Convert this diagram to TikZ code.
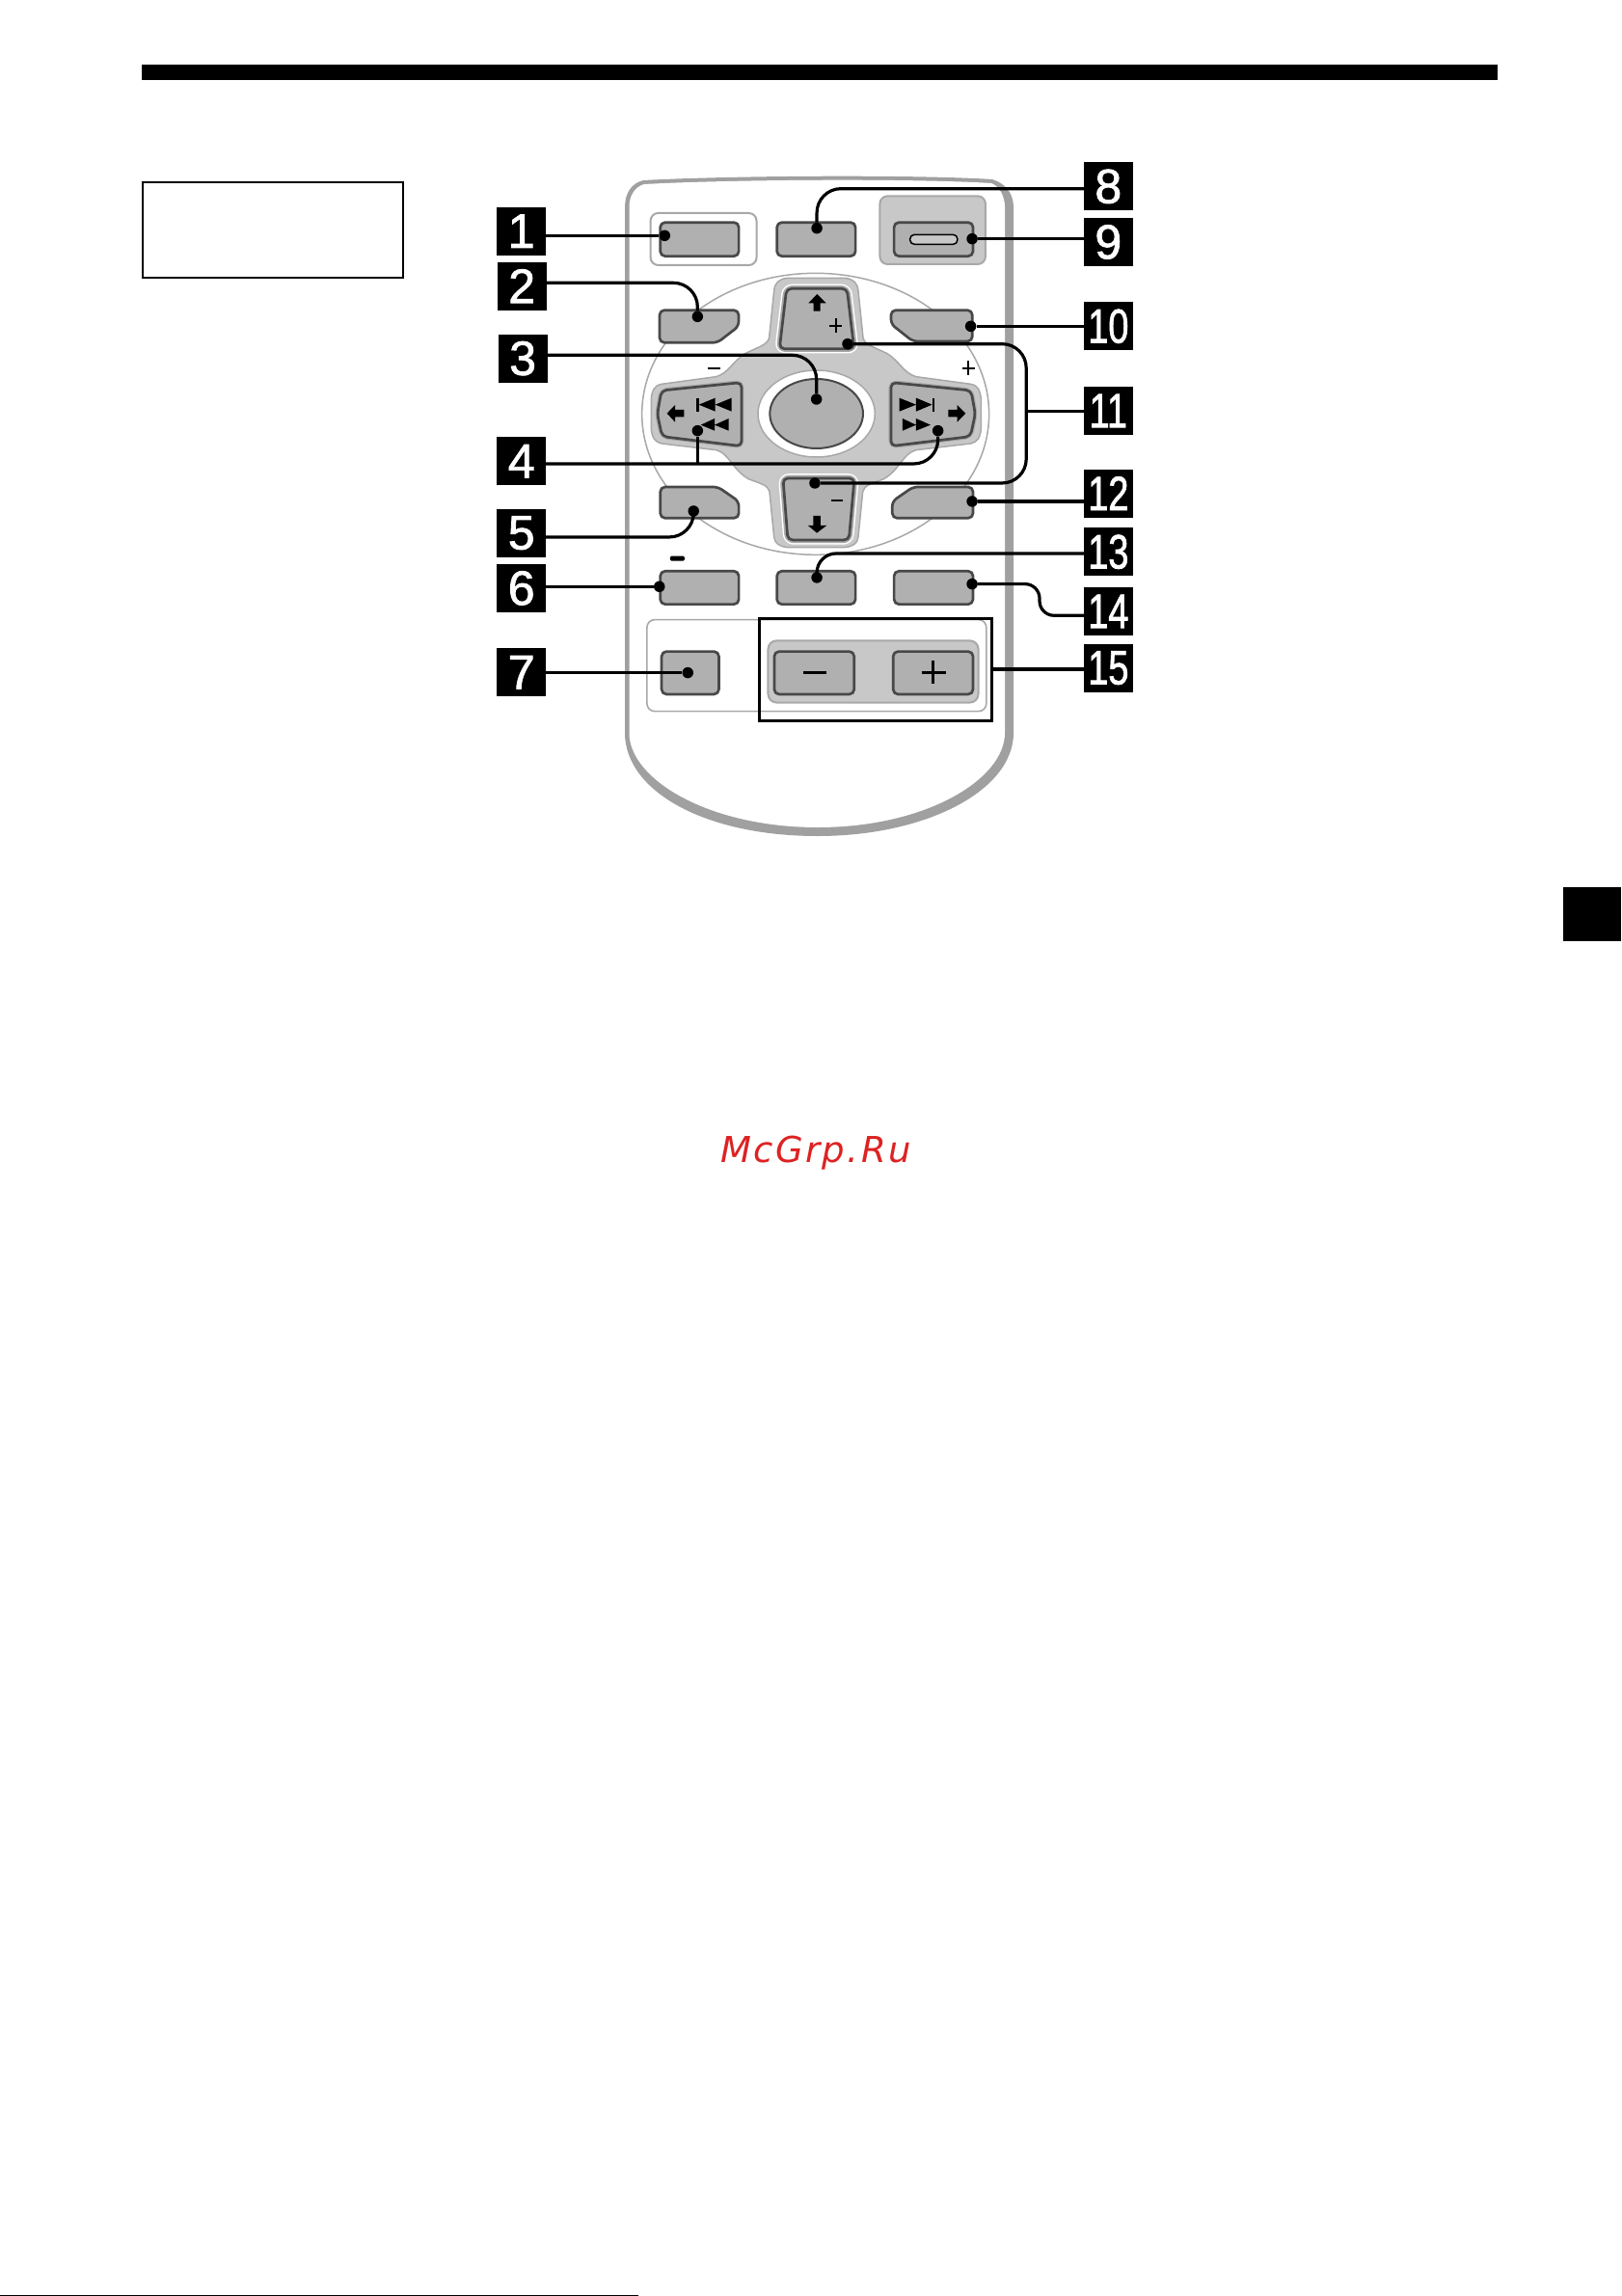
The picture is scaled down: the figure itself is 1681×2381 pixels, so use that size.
\documentclass[tikz,border=0pt]{standalone}
\usepackage{fontspec}
\usepackage{graphicx}
\newfontfamily\labfont{Liberation Sans}[FakeBold=1.6]
\newfontfamily\wmfont{DejaVu Sans}[LetterSpace=6.5]
\definecolor{btnfill}{HTML}{B0B0B0}
\definecolor{btnedge}{HTML}{484848}
\definecolor{panel}{HTML}{C8C8C8}
\definecolor{rim}{HTML}{A8A8A8}
\definecolor{shell}{HTML}{A0A0A0}
\definecolor{wm}{HTML}{DD2222}
\tikzset{
  btn/.style={draw=btnedge,fill=btnfill,line width=2.7pt,rounded corners=5pt,line join=round},
  thin gray/.style={draw=rim,line width=1.5pt},
  lab/.style={fill=black,text=white,minimum width=51pt,minimum height=50pt,inner sep=0pt,
     font=\labfont\fontsize{50}{50}\selectfont},
  dot/.style={circle,fill=black,inner sep=0pt,minimum size=11.5pt},
  leader/.style={draw=black,line width=3.2pt},
  ink/.style={fill=black,draw=none},
  fine/.style={draw=black,line width=2pt},
}
\newcommand{\two}[1]{\scalebox{.76}[1]{#1}}
\begin{document}
\begin{tikzpicture}[x=1pt,y=-1pt]
\useasboundingbox (0,0) rectangle (1681,2381);
\fill[white] (0,0) rectangle (1681,2381);
% page furniture
\fill[black] (147,67) rectangle (1553,83);
\draw[black,line width=2pt] (148,189) rectangle (418,288);
\fill[black] (1621,920) rectangle (1681,976);
\fill[black] (0,2379.5) rectangle (662,2381);
\node[text=wm,anchor=base west,inner sep=0pt,font=\wmfont\itshape\fontsize{37}{37}\selectfont] (mark) at (747,1205) {McGrp.Ru};
% remote body
\fill[shell] (648,215) .. controls (648,200) and (655,190) .. (667,187)
  .. controls (760,182) and (950,181) .. (1029,186)
  .. controls (1042,190) and (1051,200) .. (1051,215) -- (1051,760)
  .. controls (1051,820) and (960,867) .. (848,867)
  .. controls (730,867) and (648,820) .. (648,760) -- cycle;
\fill[white] (652.5,215) .. controls (652.5,203) and (658,194) .. (668,191)
  .. controls (760,186) and (950,185) .. (1028,190)
  .. controls (1036,193) and (1042,203) .. (1042,215) -- (1042,760)
  .. controls (1042,808) and (960,858) .. (848,858)
  .. controls (735,858) and (652.5,808) .. (652.5,760) -- cycle;
% zoom-8 frame: the centre cluster
\begin{scope}[shift={(660,270)},x=0.3333pt,y=-0.3333pt]
  \draw[thin gray,fill=white] (557,478) ellipse [x radius=540,y radius=438];
  \draw[thin gray,fill=panel]
    (470,55) -- (648,55) .. controls (675,58) and (688,70) .. (690,95) -- (705,240)
    .. controls (708,262) and (740,270) .. (780,290) .. controls (820,315) and (830,350) .. (870,362)
    -- (1040,385) .. controls (1064,390) and (1069,405) .. (1072,430) -- (1072,525)
    .. controls (1069,555) and (1059,565) .. (1040,570) -- (870,590)
    .. controls (830,600) and (820,650) .. (770,680) .. controls (730,695) and (708,700) .. (704,720)
    -- (690,860) .. controls (688,880) and (675,890) .. (648,893) -- (470,893)
    .. controls (443,890) and (430,880) .. (428,860) -- (414,720)
    .. controls (410,700) and (388,695) .. (348,680) .. controls (298,650) and (288,600) .. (248,590)
    -- (78,570) .. controls (59,565) and (49,555) .. (46,525) -- (46,430)
    .. controls (49,405) and (54,390) .. (78,385) -- (248,362)
    .. controls (288,350) and (298,315) .. (338,290) .. controls (378,270) and (410,262) .. (413,240)
    -- (428,95) .. controls (430,70) and (443,58) .. (470,55) -- cycle;
  % rims under the four arrow keys
  \foreach \w/\c in {9.5pt/white,6.5pt/rim}{
    \draw[draw=\c,line width=\w,rounded corners=6pt,line join=round] (467,88) -- (655,88) -- (677,275) -- (445,275) -- cycle;
    \draw[draw=\c,line width=\w,rounded corners=6pt,line join=round] (456,678) -- (678,678) -- (661,870) -- (471,870) -- cycle;
  }
  \draw[draw=rim,line width=5pt,rounded corners=6pt,line join=round] (327,380) -- (327,578) -- (80,548) -- (65,478) -- (78,405) -- cycle;
  \draw[draw=rim,line width=5pt,rounded corners=6pt,line join=round] (792,380) -- (792,578) -- (1039,548) -- (1054,478) -- (1041,405) -- cycle;
  % centre key
  \draw[draw=rim,line width=1.5pt,fill=white] (560,477) ellipse [x radius=182,y radius=135];
  \draw[draw=btnedge,fill=btnfill,line width=2pt] (560,477) ellipse [x radius=145,y radius=108];
  % arrow keys
  \draw[btn] (467,88) -- (655,88) -- (677,275) -- (445,275) -- cycle;
  \draw[btn] (456,678) -- (678,678) -- (661,870) -- (471,870) -- cycle;
  \draw[btn] (327,380) -- (327,578) -- (80,548) -- (65,478) -- (78,405) -- cycle;
  \draw[btn] (792,380) -- (792,578) -- (1039,548) -- (1054,478) -- (1041,405) -- cycle;
  % chamfered keys
  \draw[btn] (72,155) -- (318,155) -- (318,205) -- (252,256) -- (72,256) -- cycle;
  \draw[btn] (792,155) -- (1045,155) -- (1045,252) -- (860,252) -- (792,198) -- cycle;
  % glyphs
  \fill[ink] (535,133) -- (562,105) -- (590,133) -- (572,133) -- (572,158) -- (551,158) -- (551,133) -- cycle;
  \draw[fine] (600,203) -- (640,203) (620,181) -- (620,225);
  \draw[fine] (1013,335) -- (1053,335) (1033,313) -- (1033,357);
  \draw[fine] (221,335) -- (261,335);
  \fill[ink] (95,476) -- (120,450) -- (120,465) -- (148,465) -- (148,487) -- (120,487) -- (120,503) -- cycle;
  \fill[ink] (186,428) rectangle (194,470);
  \fill[ink] (194,449) -- (245,428) -- (245,470) -- cycle (245,449) -- (296,428) -- (296,470) -- cycle;
  \fill[ink] (200,512) -- (243,492) -- (243,530) -- cycle (243,512) -- (287,492) -- (287,530) -- cycle;
  \fill[ink] (818,428) -- (870,449) -- (818,470) -- cycle (870,428) -- (920,449) -- (870,470) -- cycle;
  \fill[ink] (920,428) rectangle (928,470);
  \fill[ink] (828,492) -- (870,512) -- (828,530) -- cycle (870,492) -- (915,512) -- (870,530) -- cycle;
  \fill[ink] (970,465) -- (998,465) -- (998,450) -- (1024,476) -- (998,503) -- (998,487) -- (970,487) -- cycle;
  \node[dot] (d2) at (190,175) {};
  \node[dot] (d3) at (560,432) {};
  \node[dot] (d4a) at (190,530) {};
  \node[dot] (d4b) at (938,530) {};
  \node[dot] (d10) at (1040,205) {};
  \node[dot] (d11a) at (657,260) {};
  \node[dot] (d11b) at (555,693) {};
\end{scope}
% zoom-1 frame: everything else
\begin{scope}[shift={(480,150)},x=0.46pt,y=-0.3333pt]
  \draw[draw=rim,line width=2pt,fill=white,rounded corners=8pt] (423,213) rectangle (662,375);
  \draw[draw=rim,line width=2pt,fill=panel,rounded corners=8pt] (940,160) rectangle (1178,372);
  \draw[btn] (445,242) rectangle (622,347);
  \draw[btn] (708,242) rectangle (885,347);
  \draw[btn] (972,242) rectangle (1150,347);
  \draw[draw=black,line width=1.5pt,fill=panel,rounded corners=4.5pt] (1008,280) rectangle (1115,310);
  \draw[btn] (445,1065) -- (575,1065) -- (622,1110) -- (622,1162) -- (445,1162) -- cycle;
  \draw[btn] (1015,1065) -- (1150,1065) -- (1150,1162) -- (968,1162) -- (968,1110) -- cycle;
  % down key glyphs
  \fill[ink] (790,1155) -- (806,1155) -- (806,1185) -- (820,1185) -- (798,1208) -- (778,1185) -- (790,1185) -- cycle;
  \draw[fine] (830,1108) -- (857,1108);
  % lower rows
  \fill[ink,rounded corners=1.5pt] (467,1280) rectangle (500,1295);
  \draw[btn] (445,1327) rectangle (622,1430);
  \draw[btn] (708,1327) rectangle (885,1430);
  \draw[btn] (972,1327) rectangle (1150,1430);
  \draw[draw=rim,line width=1.6pt,rounded corners=8pt] (415,1478) rectangle (1180,1763);
  \draw[btn] (448,1577) rectangle (577,1710);
  \draw[draw=rim,line width=2pt,fill=panel,rounded corners=9pt] (688,1543) rectangle (1162,1736);
  \draw[btn] (702,1577) rectangle (882,1710);
  \draw[btn] (970,1577) rectangle (1150,1710);
  \draw[black,line width=3.4pt] (768,1642) -- (820,1642);
  \draw[black,line width=3.4pt] (1034,1642) -- (1088,1642) (1060,1605) -- (1060,1678);
  \draw[black,line width=3.3pt] (668,1475) rectangle (1192,1792);
  % number tags
  \node[lab] (L1) at (132,269) {1};
  \node[lab] (L2) at (133,440) {2};
  \node[lab] (L3) at (135,665) {3};
  \node[lab] (L4) at (132,985) {4};
  \node[lab] (L5) at (132,1208) {5};
  \node[lab] (L6) at (132,1380) {6};
  \node[lab] (L7) at (132,1642) {7};
  \node[lab] (L8) at (1455,130) {8};
  \node[lab] (L9) at (1455,303) {9};
  \node[lab] (L10) at (1455,565) {\two{10}};
  \node[lab] (L11) at (1455,828) {\two{11}};
  \node[lab] (L12) at (1455,1085) {\two{12}};
  \node[lab] (L13) at (1455,1267) {\two{13}};
  \node[lab] (L14) at (1455,1452) {\two{14}};
  \node[lab] (L15) at (1455,1628) {\two{15}};
  % leader ends
  \node[dot] (d1) at (455,283) {};
  \node[dot] (d5) at (520,1140) {};
  \node[dot] (d6) at (443,1375) {};
  \node[dot] (d7) at (507,1643) {};
  \node[dot] (d8) at (798,260) {};
  \node[dot] (d9) at (1148,293) {};
  \node[dot] (d12) at (1148,1110) {};
  \node[dot] (d13) at (798,1347) {};
  \node[dot] (d14) at (1148,1367) {};
  \coordinate (s2) at (188,430);
  \coordinate (s3) at (190,655);
  \coordinate (s4) at (187,993);
  \coordinate (s5) at (187,1221);
  \coordinate (s8) at (1400,137);
  \coordinate (s13) at (1400,1272);
  \coordinate (s14) at (1400,1465);
  \coordinate (j11) at (1270,830);
  \coordinate (j15) at (1192,1632);
  \coordinate (t11a) at (1270,620);
  \coordinate (t11b) at (1270,1055);
  \coordinate (k14a) at (1300,1367);
  \coordinate (k14b) at (1300,1465);
\end{scope}
% connectors
\draw[leader] (L1.east |- d1) -- (d1);
\draw[leader,rounded corners=25pt] (s2) -| (d2);
\draw[leader,rounded corners=25pt] (s3) -| (d3);
\draw[leader,rounded corners=25pt] (s4) -| (d4b);
\draw[leader] (d4a) -- (d4a |- s4);
\draw[leader,rounded corners=25pt] (s5) -| (d5);
\draw[leader] (L6.east |- d6) -- (d6);
\draw[leader] (L7.east |- d7) -- (d7);
\draw[leader,rounded corners=25pt] (s8) -| (d8);
\draw[leader] (L9.west |- d9) -- (d9);
\draw[leader] (L10.west |- d10) -- (d10);
\draw[leader,rounded corners=25pt] (d11a) -- (t11a |- d11a) -- (t11b |- d11b) -- (d11b);
\draw[leader] (L11.west |- j11) -- (j11);
\draw[leader] (L12.west |- d12) -- (d12);
\draw[leader,rounded corners=20pt] (s13) -| (d13);
\draw[leader,rounded corners=15pt] (d14) -- (k14a) -- (k14b) -- (s14);
\draw[leader] (L15.west |- j15) -- (j15);
\end{tikzpicture}
\end{document}
